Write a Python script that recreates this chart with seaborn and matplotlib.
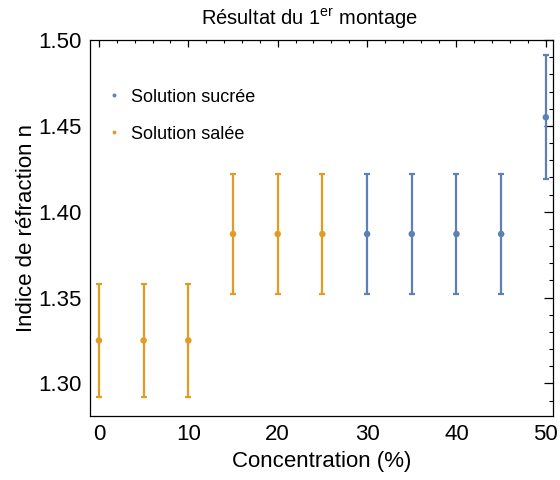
import numpy as np
import pandas as pd
import seaborn as sns
import matplotlib
matplotlib.use("Agg")
import matplotlib.pyplot as plt
from matplotlib.ticker import MultipleLocator

# Data
conc_sucree = [30, 35, 40, 45, 50]
n_sucree = [1.387, 1.387, 1.387, 1.387, 1.455]
err_sucree = [0.035, 0.035, 0.035, 0.035, 0.036]

conc_salee = [0, 5, 10, 15, 20, 25]
n_salee = [1.325, 1.325, 1.325, 1.387, 1.387, 1.387]
err_salee = [0.033, 0.033, 0.033, 0.035, 0.035, 0.035]

labels = ["Solution sucrée", "Solution salée"]
colors = ["#5E81B5", "#E19C24"]

sns.set_theme(style="white")
plt.rcParams['font.family'] = ['Liberation Sans', 'DejaVu Sans']
plt.rcParams['mathtext.fontset'] = 'custom'
plt.rcParams['mathtext.rm'] = 'Liberation Sans'
plt.rcParams['text.color'] = 'black'
plt.rcParams['axes.labelcolor'] = 'black'

df = pd.concat([
    pd.DataFrame({"x": conc_sucree, "y": n_sucree, "err": err_sucree, "serie": labels[0]}),
    pd.DataFrame({"x": conc_salee, "y": n_salee, "err": err_salee, "serie": labels[1]}),
], ignore_index=True)

fig = plt.figure(figsize=(5.6, 4.8), dpi=100)
ax = fig.add_axes([90/560, 1-416/480, 463/560, 376/480])

for lab, col in zip(labels, colors):
    sub = df[df.serie == lab]
    ax.errorbar(sub.x, sub.y, yerr=sub.err, fmt='none', ecolor=col,
                elinewidth=1.6, capsize=2.0, capthick=1.6, zorder=2)

sns.scatterplot(data=df, x="x", y="y", hue="serie", palette=colors,
                hue_order=labels, s=22, edgecolor='none', ax=ax, zorder=3)

ax.set_xlim(-1.0, 50.8)
ax.set_ylim(1.281, 1.5)
ax.xaxis.set_major_locator(MultipleLocator(10))
ax.xaxis.set_minor_locator(MultipleLocator(2))
ax.yaxis.set_major_locator(MultipleLocator(0.05))
ax.yaxis.set_minor_locator(MultipleLocator(0.01))
ax.yaxis.set_major_formatter(matplotlib.ticker.FormatStrFormatter('%.2f'))

ax.tick_params(axis='both', which='both', direction='in', top=True, right=True,
               labelsize=16, colors='black', pad=6)
ax.tick_params(axis='x', which='major', length=5, width=0.9)
ax.tick_params(axis='x', which='minor', length=2.5, width=0.8)
ax.tick_params(axis='y', which='major', length=6.5, width=0.9)
ax.tick_params(axis='y', which='minor', length=3, width=0.8)

for s in ax.spines.values():
    s.set_color('black')
    s.set_linewidth(0.9)

ax.set_xlabel("Concentration (%)", fontsize=16, labelpad=4)
ax.set_ylabel("Indice de réfraction n", fontsize=16, labelpad=1)

fig.text(309/560, 1-19/480, r"Résultat du 1$^{\rm er}$ montage", fontsize=14.5,
         ha='center', va='center')

leg = ax.legend(loc='upper left', bbox_to_anchor=(0.0, 0.914), frameon=False,
                fontsize=13, markerscale=0.6, handlelength=0.9, handletextpad=0.45,
                labelspacing=1.12, borderaxespad=0.5)

fig.savefig("out.png", dpi=100)
